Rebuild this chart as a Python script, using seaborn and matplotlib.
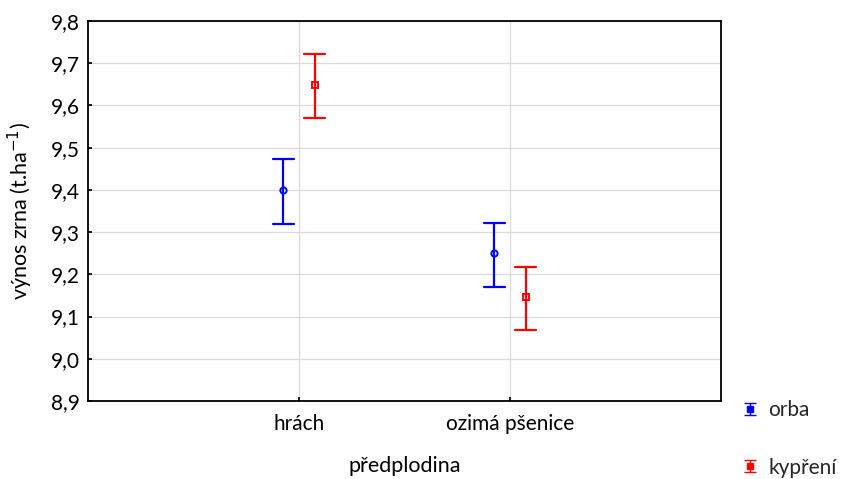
import numpy as np
import pandas as pd
import seaborn as sns
import matplotlib
matplotlib.use("Agg")
import matplotlib.pyplot as plt
from matplotlib.ticker import FixedLocator, FixedFormatter
from matplotlib.lines import Line2D
from matplotlib.path import Path
from matplotlib.legend_handler import HandlerTuple

# ---- data ----
categories = ["hrách", "ozimá pšenice"]
groups = ["orba", "kypření"]
mean_orba = [9.40, 9.25]
low_orba = [9.320, 9.170]
high_orba = [9.474, 9.322]
mean_kyp = [9.649, 9.146]
low_kyp = [9.570, 9.067]
high_kyp = [9.721, 9.218]
yticks = [8.9, 9.0, 9.1, 9.2, 9.3, 9.4, 9.5, 9.6, 9.7, 9.8]
ytick_labels = ["8,9", "9,0", "9,1", "9,2", "9,3", "9,4", "9,5", "9,6", "9,7", "9,8"]

# long table: low / mean / high per group -> median = mean, 100% interval = bounds
rows = []
for g, lo, me, hi in [("orba", low_orba, mean_orba, high_orba),
                      ("kypření", low_kyp, mean_kyp, high_kyp)]:
    for c, a, b, d in zip(categories, lo, me, hi):
        for v in (a, b, d):
            rows.append({"předplodina": c, "skupina": g, "výnos": v})
df = pd.DataFrame(rows)

sns.set_theme(style="white")
plt.rcParams["font.family"] = ["Lato", "DejaVu Sans"]

fig = plt.figure(figsize=(8.49, 4.79), dpi=100)
ax = fig.add_axes([88 / 849, 78 / 479, (721 - 88) / 849, (401 - 21) / 479])

palette = {"orba": "#0000ff", "kypření": "#ff0000"}
sns.pointplot(data=df, x="předplodina", y="výnos", hue="skupina",
              hue_order=groups, order=categories, palette=palette,
              estimator="median", errorbar=("pi", 100),
              markers=["o", "s"], linestyles="none", dodge=0.15,
              capsize=0.1, err_kws={"linewidth": 1.6}, markersize=4.5,
              ax=ax, legend=False)

for ln in ax.lines:
    if ln.get_marker() not in (None, "None", ""):
        ln.set_markerfacecolor("white")
        ln.set_markeredgewidth(1.4)

ax.set_xlim(-1, 2)
ax.set_ylim(8.9, 9.8)
ax.yaxis.set_major_locator(FixedLocator(yticks))
ax.yaxis.set_major_formatter(FixedFormatter(ytick_labels))
ax.grid(True, color="#d9d9d9", linewidth=0.9)
ax.set_axisbelow(True)
for s in ax.spines.values():
    s.set_color("black")
    s.set_linewidth(1.3)
ax.tick_params(axis="both", direction="in", length=3, color="black",
               labelsize=15, labelcolor="black", left=True, bottom=True)
ax.tick_params(axis="y", pad=6)
ax.tick_params(axis="x", pad=9)
ax.set_xlabel("předplodina", fontsize=15.5, labelpad=16, color="black")
ax.set_ylabel("výnos zrna (t.ha$^{-1}$)", fontsize=15.5, labelpad=11, color="black")

# legend with error-bar icons
ibeam = Path([(-1, 1), (1, 1), (0, 1), (0, -1), (-1, -1), (1, -1)],
             [Path.MOVETO, Path.LINETO, Path.MOVETO, Path.LINETO, Path.MOVETO, Path.LINETO])
handles = []
for g in groups:
    bar = Line2D([], [], linestyle="none", marker=ibeam, markersize=8,
                 markeredgecolor=palette[g], markerfacecolor="none", markeredgewidth=1.0)
    dot = Line2D([], [], linestyle="none", marker="s", markersize=4,
                 color=palette[g])
    handles.append((bar, dot))
fig.legend(handles, groups, loc="upper left",
           handler_map={tuple: HandlerTuple(ndivide=1)},
           bbox_to_anchor=(740 / 849, 1 - 400 / 479), frameon=False,
           fontsize=15, labelspacing=1.8, handlelength=1.0, handletextpad=0.35,
           borderaxespad=0, borderpad=0)

fig.savefig("out.png", dpi=100)
